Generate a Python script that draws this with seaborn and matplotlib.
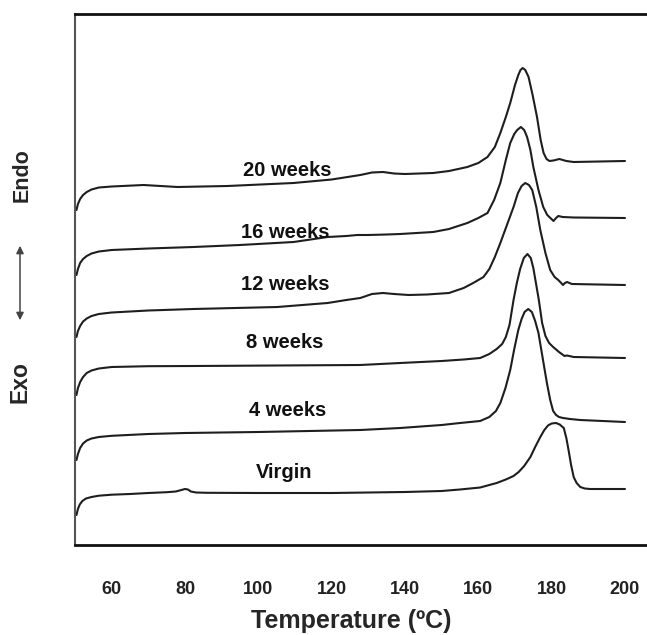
import matplotlib
matplotlib.use("Agg")
import matplotlib.pyplot as plt
import seaborn as sns
import pandas as pd

# ---- data (temperature in °C, heat-flow in arbitrary offset units) ----
virgin_T = [50.4, 50.8, 51.3, 52, 53, 54.5, 56.5, 60, 65, 70, 75, 77.5, 79, 80, 80.8, 81.6, 83, 86,
            100, 120, 140, 150, 155, 160.5, 163, 165, 167.5, 169.6, 171, 172.5, 174.2, 175.5,
            176.9, 178, 179, 180, 181.2, 182.2, 183.3, 184, 184.6, 185.3, 186, 186.8, 187.8,
            189, 190.5, 200]
virgin_v = [30, 36, 40.5, 44, 46.5, 48, 49.3, 50.3, 51, 52, 52.8, 53.5, 55, 56, 55.5, 53.5, 52.5, 52.2,
            52, 52, 53, 54, 55.5, 57.5, 60, 62, 65.5, 69, 73, 79, 88, 98,
            108, 115, 119.5, 121.5, 122, 120.5, 117, 107, 95, 80, 68, 62, 58,
            56.5, 56, 56]

w4_T = [50.4, 50.8, 51.4, 52.2, 53.2, 54.5, 56.5, 60, 70, 80, 100, 127.8, 138.7, 150, 155, 160.5,
        163, 164.8, 166, 167.4, 168.7, 169.8, 170.9, 171.8, 172.6, 173.6, 174.6, 175.5, 176.4,
        177.5, 178.7, 179.6, 180.4, 181.2, 182, 183.1, 185, 187.8, 200]
w4_v = [85, 91, 97, 101.5, 104.5, 106.5, 108, 109.2, 111, 112, 113, 115, 117, 120, 122, 124,
        128, 134, 142, 157, 175, 196, 215, 226, 233, 236, 233, 224, 212,
        188, 162, 145, 134, 130, 128, 127, 126, 125, 123]

w8_T = [50.4, 50.8, 51.4, 52.2, 53.2, 54.5, 56.5, 60, 70, 82.3, 127.8, 138.7, 150, 156, 160.5, 163,
        165, 166.5, 167.5, 168.5, 169.6, 170.5, 171.4, 172.4, 173.4, 174.3, 175, 175.8, 176.5,
        177.4, 178.3, 179.3, 180.4, 182, 183.5, 184.2, 186, 200]
w8_v = [150, 157, 163, 168, 172, 174.5, 176.5, 178, 178.8, 179, 180, 182, 184, 185.5, 187, 191,
        196, 201, 208, 220, 245, 262, 276, 287, 291, 287, 277, 260, 245,
        222, 209, 202, 198, 193, 189, 189.5, 188, 187]

w12_T = [50.4, 50.8, 51.4, 52.2, 53.2, 54.5, 56.5, 60, 70, 82.3, 105.2, 118.9, 124, 127.8, 131, 134,
         137, 141, 146, 152, 156, 158.6, 161.4, 163, 164.5, 166, 168, 169.6, 170.8, 171.8, 172.8,
         173.8, 174.7, 175.8, 176.9, 178.3, 179.6, 180.8, 181.8, 182.6, 183.1, 183.6, 184.2, 185.5,
         200]
w12_v = [208, 214, 219, 223.5, 226.5, 229, 231, 232.5, 234.5, 236, 238, 242, 245, 247, 251, 252,
         251, 250, 250.5, 252, 257, 262, 268, 276, 288, 302, 322, 338, 352, 359, 362,
         360, 355, 338, 315, 292, 275, 268, 265, 262, 260, 262, 263, 261,
         260]

w16_T = [50.4, 50.8, 51.4, 52.2, 53.2, 54.5, 56.5, 60, 70, 82.3, 95, 109.6, 118.9, 124, 127, 130,
         135, 138.7, 147.7, 152, 157, 160, 162.5, 164.3, 166, 167.5, 168.7, 169.8, 170.6, 171.6,
         172.5, 173.3, 174.2, 175, 176.4, 177.7, 178.8, 180.5, 181.2, 181.8, 183, 186, 200]
w16_v = [270, 276, 282, 286, 289, 291.5, 293.5, 295, 296.5, 298, 300, 303, 308, 309, 310, 310,
         310.5, 311, 313, 316, 322, 327, 332, 345, 362, 385, 402, 411, 415, 418,
         415, 408, 395, 378, 355, 338, 330, 324, 327, 329, 328, 327.5, 327]

w20_T = [50.4, 50.8, 51.4, 52.2, 53.2, 54.5, 56.5, 60, 68.7, 78, 91.6, 109.6, 120, 127.8, 131, 134,
         137, 140, 147.7, 152, 157, 160, 162.5, 164.5, 166, 167.5, 168.7, 170, 170.9, 171.5, 172.1,
         172.8, 173.7, 174.8, 176, 177, 177.8, 178.6, 179.4, 180.5, 182.1, 184, 186, 200]
w20_v = [335, 341, 346, 350, 353, 355.5, 357.5, 358.5, 360, 358, 359, 362, 365.5, 370, 372.5, 373,
         371.5, 371, 372, 374, 378, 382, 388, 398, 412, 428, 442, 460, 470, 475, 477,
         475, 468, 450, 428, 405, 392, 386, 384, 384.5, 386, 384, 383, 384]

series_names = ["Virgin", "4 weeks", "8 weeks", "12 weeks", "16 weeks", "20 weeks"]
x_ticks = [60, 80, 100, 120, 140, 160, 180, 200]

# label anchor positions (T, value)
label_pos = [(106.9, 73), (108.0, 135), (107.1, 203), (107.4, 261), (107.4, 312), (108.0, 374)]

curves = [(virgin_T, virgin_v), (w4_T, w4_v), (w8_T, w8_v),
          (w12_T, w12_v), (w16_T, w16_v), (w20_T, w20_v)]

sns.set_style("white")
plt.rcParams["font.family"] = ["Liberation Sans", "DejaVu Sans"]

fig = plt.figure(figsize=(6.47, 6.35), dpi=100)
ax = fig.add_axes([75 / 647, 1 - 545 / 635, 1 - 75 / 647, (545 - 14) / 635])

for name, (T, v) in zip(series_names, curves):
    df = pd.DataFrame({"T": T, "v": v})
    sns.lineplot(data=df, x="T", y="v", ax=ax, color="#1e1e1e", linewidth=1.5,
                 sort=False, estimator=None)

for name, (tx, ty) in zip(series_names, label_pos):
    ax.text(tx, ty, name, ha="center", va="center", fontsize=14.5,
            fontweight="bold", color="#111111")

ax.set_xlim(50, 206)
ax.set_ylim(0, 531)
ax.set_yticks([])
ax.set_xticks(x_ticks)
ax.set_xticklabels([str(t) for t in x_ticks], fontsize=13, fontweight="bold")
ax.tick_params(axis="x", direction="in", length=5, width=1.2, pad=26, colors="#222222")
ax.set_ylabel("")
ax.set_xlabel("Temperature (ºC)", fontsize=18, fontweight="bold")
ax.xaxis.set_label_coords(0.483, -0.12)

for s in ["top", "bottom"]:
    ax.spines[s].set_color("#111111")
    ax.spines[s].set_linewidth(2)
ax.spines["left"].set_color("#555555")
ax.spines["left"].set_linewidth(1.5)
ax.spines["right"].set_visible(False)

fig.text(22 / 647, 1 - 175 / 635, "Endo", rotation=90, ha="center", va="center",
         fontsize=15.5, fontweight="bold")
fig.text(20 / 647, 1 - 382 / 635, "Exo", rotation=90, ha="center", va="center",
         fontsize=16.5, fontweight="bold")
fig.add_artist(matplotlib.patches.FancyArrowPatch(
    (20 / 647, 1 - 243 / 635), (20 / 647, 1 - 323 / 635), transform=fig.transFigure,
    arrowstyle="<|-|>", mutation_scale=11, color="#444444", linewidth=1.1))

fig.savefig("out.png", dpi=100)
